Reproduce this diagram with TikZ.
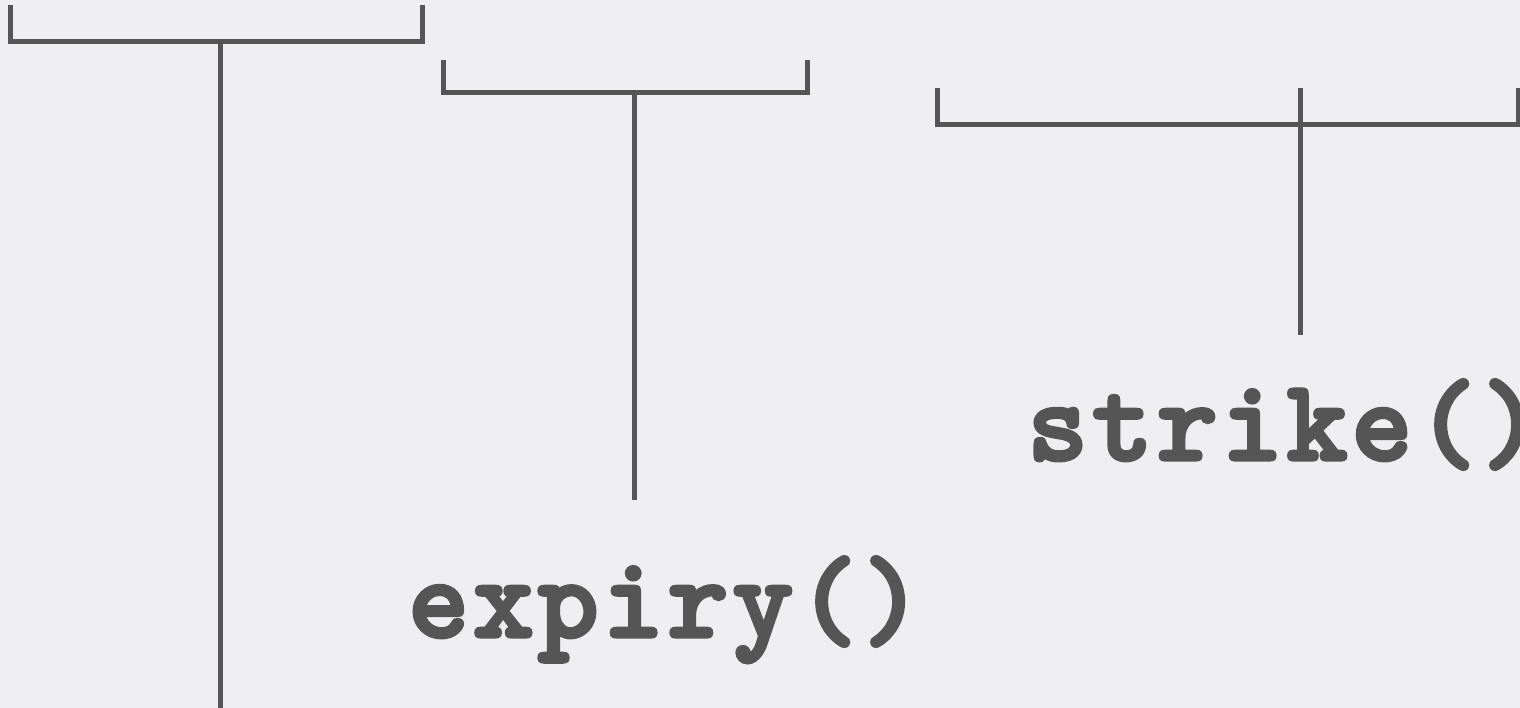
\documentclass[tikz,border=0pt]{standalone}
\definecolor{bg}{HTML}{EFEFF1}
\definecolor{ink}{HTML}{555555}
\font\lblfont="[lmmonolt10-bold.otf]:letterspace=3.4;embolden=3" at 116pt
\begin{document}
\begin{tikzpicture}[x=1pt,y=-1pt,
  br/.style={draw=ink,line width=5pt},
  lbl/.style={text=ink,font=\lblfont,inner sep=0pt,anchor=base west}]
\fill[bg] (0,0) rectangle (1520,708);
\useasboundingbox (0,0) rectangle (1520,708);
% bracket 1
\coordinate (a1) at (10,5);
\coordinate (a2) at (422,5);
\coordinate (a3) at (220,708);
\draw[br] (a1) -- (10,42) -- (422,42) -- (a2);
\draw[br] (220,42) -- (a3);
% bracket 2
\coordinate (b1) at (443,60);
\coordinate (b2) at (807,60);
\coordinate (b3) at (634,500);
\draw[br] (b1) -- (443,93) -- (807,93) -- (b2);
\draw[br] (634,93) -- (b3);
% bracket 3
\coordinate (c1) at (937,88);
\coordinate (c2) at (1300,88);
\coordinate (c3) at (1300,335);
\draw[br] (c1) -- (937,125) -- (1525,125);
\draw[br] (1518,88) -- (1518,125);
\draw[br] (c2) -- (c3);
\node[lbl] (expiry) at (408,637) {expiry()};
\node[lbl] (strike) at (1027,460) {strike()};
\end{tikzpicture}
\end{document}
